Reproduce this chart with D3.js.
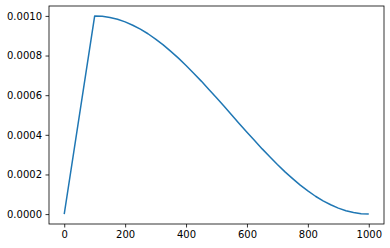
<!DOCTYPE html>
<html>
<head>
<meta charset="utf-8">
<script src="https://cdn.jsdelivr.net/npm/d3@7"></script>
<style>
  body { margin: 0; background: #fff; }
  svg { display: block; }
  .axis text { font-family: "DejaVu Sans", sans-serif; font-size: 10px; fill: #000; }
  .axis path, .axis line { stroke: #000; stroke-width: 0.8; }
</style>
</head>
<body>
<svg id="chart" width="390" height="248"></svg>
<script>
// learning rate
var steps = [0, 100, 125, 150, 175, 200, 225, 250, 275, 300, 325, 350, 375, 400,
  425, 450, 475, 500, 525, 550, 575, 600, 625, 650, 675, 700, 725, 750, 775,
  800, 825, 850, 875, 900, 925, 950, 975, 1000];
var lr = [0, 0.001, 0.000998, 0.000992, 0.000983, 0.000970, 0.000953, 0.000933,
  0.000910, 0.000883, 0.000854, 0.000821, 0.000787, 0.000750, 0.000711, 0.000671,
  0.000629, 0.000587, 0.000544, 0.000500, 0.000456, 0.000413, 0.000371, 0.000329,
  0.000289, 0.000250, 0.000213, 0.000179, 0.000146, 0.000117, 0.000090, 0.000067,
  0.000047, 0.000030, 0.000017, 0.000008, 0.000002, 0];
var xTicks = [0, 200, 400, 600, 800, 1000];
var yTicks = [0, 0.0002, 0.0004, 0.0006, 0.0008, 0.0010];

var svg = d3.select("#chart");
var m = {left: 49, right: 384, top: 6, bottom: 224};

var x = d3.scaleLinear().domain([-50, 1050]).range([m.left, m.right]);
var y = d3.scaleLinear().domain([-0.00005, 0.00105]).range([m.bottom, m.top]);

// spines
svg.append("rect")
    .attr("x", m.left).attr("y", m.top)
    .attr("width", m.right - m.left).attr("height", m.bottom - m.top)
    .attr("fill", "none").attr("stroke", "#000").attr("stroke-width", 0.8);

svg.append("g")
    .attr("class", "axis")
    .attr("transform", "translate(0," + m.bottom + ")")
    .call(d3.axisBottom(x).tickValues(xTicks).tickSize(3.5).tickPadding(3.5)
      .tickFormat(d3.format("d")))
    .call(function(g){ g.select(".domain").remove(); });

svg.append("g")
    .attr("class", "axis")
    .attr("transform", "translate(" + m.left + ",0)")
    .call(d3.axisLeft(y).tickValues(yTicks).tickSize(3.5).tickPadding(3.5)
      .tickFormat(d3.format(".4f")))
    .call(function(g){ g.select(".domain").remove(); });

var line = d3.line()
    .x(function(d, i){ return x(steps[i]); })
    .y(function(d){ return y(d); });

svg.append("path")
    .datum(lr)
    .attr("d", line)
    .attr("fill", "none")
    .attr("stroke", "#1f77b4")
    .attr("stroke-width", 1.5)
    .attr("stroke-linejoin", "round");
</script>
</body>
</html>
